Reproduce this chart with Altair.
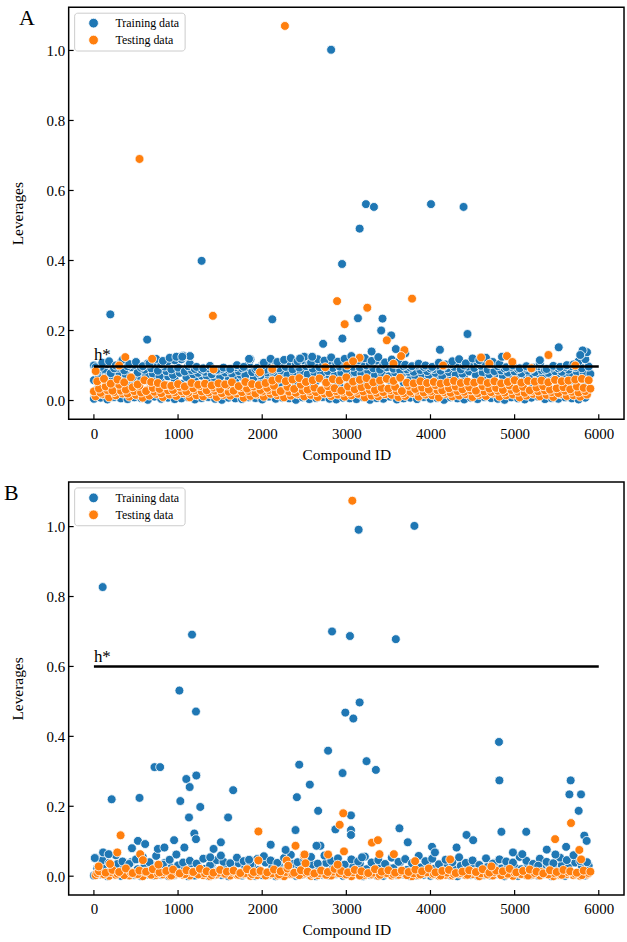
import altair as alt
import numpy as np
import pandas as pd

SERIF = "Liberation Serif"
SETS = ["Training data", "Testing data"]
SET_COLORS = ["#1f77b4", "#ff7f0e"]
X_TICKS = [0, 1000, 2000, 3000, 4000, 5000, 6000]
Y_TICKS = [0.0, 0.2, 0.4, 0.6, 0.8, 1.0]
H_SPAN = [0, 6000]
STEP = 80  # compound ids between neighbouring samples of a dense band row

# ---------------- Panel A ----------------
A_H = 0.097
# dense band rows: (id offset, leverages x1000 sampled every STEP ids)
A_TRAIN_BAND = [
    (0, [5, 8, 3, 10, 6, 4, 9, 7, 2, 11, 5, 8, 4, 6, 9, 3, 7, 10, 5, 2, 8, 6, 4, 9, 7, 3, 11, 5, 8, 6, 2, 9, 4, 7, 10, 5, 3,
         8, 6, 4, 9, 2, 7, 5, 11, 3, 6, 8, 4, 10, 5, 7, 2, 9, 6, 3, 8, 4, 10, 7, 5, 2, 9, 6, 3, 8, 11, 4, 7, 5, 9, 6, 3, 8]),
    (40, [32, 25, 40, 28, 36, 44, 30, 22, 38, 27, 41, 33, 24, 35, 29, 43, 26, 37, 31, 21, 39, 34, 28, 42, 23, 36, 30, 45, 27,
          33, 40, 24, 38, 29, 35, 22, 41, 31, 26, 37, 43, 28, 34, 25, 39, 30, 36, 23, 42, 27, 32, 38, 24, 35, 29, 44, 26, 33,
          40, 21, 37, 31, 28, 43, 25, 36, 30, 39, 22, 34, 41, 27, 33, 29]),
    (0, [58, 62, 50, 67, 55, 70, 48, 63, 57, 66, 52, 69, 60, 47, 64, 56, 71, 53, 61, 49, 65, 58, 68, 51, 62, 57, 70, 54, 66,
         59, 48, 63, 72, 55, 61, 67, 50, 64, 58, 69, 53, 60, 46, 65, 57, 71, 52, 62, 56, 68, 49, 63, 59, 66, 54, 70, 51, 61,
         58, 67, 47, 64, 55, 69, 60, 52, 66, 57, 63, 50, 68, 59, 62, 56]),
    (60, [72, 78, 68, 80, 74, 66, 82, 70, 77, 69, 84, 73, 79, 67, 75, 81, 71, 76, 68, 83, 70, 74, 79, 66, 72, 80, 77, 85, 73,
          78, 82, 75, 80, 76, 84, 71, 79, 74, 81, 77, 83, 72, 78, 69, 80, 75, 82, 70, 76, 73, 79, 68, 81, 74, 77, 83, 72, 80,
          75, 78, 70, 76, 73, 81, 69, 77, 74, 80, 72, 78, 75, 82, 79, 76]),
    (40, [84, 90, 78, 93, 86, 95, 80, 88, 92, 85, 97, 89, 94, 83, 87, 79, 82, 75, 86, 80, 77, 84, 72, 81, 78, 88, 85, 92, 96,
          89, 94, 98, 91, 95, 99, 93, 97, 90, 96, 94, 100, 92, 88, 95, 91, 86, 89, 82, 87, 84, 90, 85, 92, 96, 89, 97, 93, 99,
          88, 84, 86, 80, 83, 78, 85, 81, 87, 79, 84, 82, 88, 95, 92, 97]),
    (0, [100, 96, 104, 92, 108, 98, 102, 94, 106, 110, 104, 112, 115, 118, 98, 90, 88, 92, 86, 90, 88, 95, 92, 104, 90, 100,
         108, 104, 110, 112, 106, 115, 104, 110, 108, 114, 106, 112, 116, 108, 112, 106, 114, 102, 108, 104, 98, 94, 100, 96,
         92, 100, 98, 104, 108, 100, 110, 106, 112, 104, 98, 92, 96, 90, 94, 90, 98, 88, 94, 92, 96, 98, 112, 118]),
    (20, [95, 108, 112, 100, 116, 104, 110, 98, 106, 119, 113, 122, 125, 128, 105, 96, 92, 99, 88, 94, 90, 101, 96, 118, 93,
          108, 119, 110, 116, 121, 112, 125, 108, 118, 114, 123, 111, 119, 127, 115, 121, 113, 124, 109, 117, 110, 102, 98,
          105, 100, 96, 108, 103, 112, 118, 106, 120, 115, 122, 110, 104, 95, 100, 92, 98, 94, 105, 90, 99, 96, 101, 103, 130,
          138]),
]
A_TRAIN_OUT_ID = [2819, 1280, 3158, 2949, 195, 2120, 3138, 3233, 3328, 4006, 4393, 3430, 3414, 3533, 2953, 2724, 4440,
                  5524, 5808, 4112, 3588, 633, 1142, 1844, 2594, 3300, 3700, 5300, 4850, 1050, 2450, 5780]
A_TRAIN_OUT_LEV = [1002, 399, 491, 390, 246, 232, 235, 561, 553, 561, 553, 234, 200, 186, 177, 162, 190,
                   152, 143, 145, 147, 174, 127, 119, 125, 140, 135, 115, 125, 125, 120, 130]
A_TEST_BAND = [
    (20, [12, 18, 9, 15, 20, 11, 16, 8, 14, 19, 10, 17, 13, 21, 9, 15, 12, 18, 10, 16, 14, 20, 8, 13, 17, 11, 19, 15, 9, 14,
          18, 12, 16, 10, 20, 13, 17, 11, 15, 19, 9, 14, 12, 18, 16, 10, 13, 21, 11, 17, 15, 9, 19, 12, 14, 18, 10, 16, 13,
          20, 11, 15, 17, 9, 14, 19, 12, 16, 10, 18, 13, 15, 11, 17]),
    (0, [26, 22, 30, 24, 28, 20, 27, 23, 31, 25, 21, 29, 24, 27, 22, 30, 26, 23, 28, 21, 25, 29, 24, 27, 20, 26, 30, 23, 28,
         25, 22, 29, 26, 24, 31, 21, 27, 25, 23, 28, 26, 30, 22, 24, 29, 27, 21, 25, 28, 23, 26, 30, 24, 22, 27, 25, 29, 21,
         26, 24, 28, 23, 30, 25, 22, 27, 26, 29, 24, 21, 28, 25, 23, 27]),
    (60, [34, 40, 28, 45, 31, 38, 42, 27, 36, 33, 44, 30, 39, 26, 35, 41, 29, 37, 32, 43, 28, 38, 34, 40, 30, 36, 42, 27, 39,
          33, 45, 31, 37, 29, 41, 35, 28, 40, 32, 38, 43, 30, 36, 34, 39, 27, 42, 33, 37, 31, 44, 29, 35, 40, 32, 38, 28, 41,
          34, 36, 30, 43, 33, 39, 29, 37, 41, 31, 35, 38, 32, 40, 36, 34]),
    (40, [55, 62, 48, 60, 52, 66, 46, 58, 53, 50, 44, 42, 47, 40, 50, 45, 48, 43, 49, 46, 52, 41, 53, 47, 44, 50, 57, 62, 55,
          60, 64, 53, 58, 63, 51, 61, 57, 66, 54, 59, 64, 52, 57, 62, 56, 65, 51, 49, 55, 50, 53, 48, 52, 56, 50, 54, 51, 57,
          50, 55, 49, 53, 58, 51, 56, 54, 57, 52, 59, 55, 57, 60, 62, 58]),
]
A_TEST_OUT_ID = [2270, 542, 2890, 3249, 3781, 1414, 2980, 3481, 5402, 4601, 4909, 4973, 3690, 3651, 3158, 373, 692, 21,
                 1422, 1974, 2120, 2750, 3010, 3560, 4150, 4700, 5200, 5720, 300, 3080]
A_TEST_OUT_LEV = [1070, 690, 284, 265, 291, 242, 218, 172, 130, 123, 127, 110, 144, 127, 122, 124, 119, 84,
                  89, 81, 90, 95, 100, 105, 100, 105, 92, 100, 100, 112]

# ---------------- Panel B ----------------
B_H = 0.6
B_TRAIN_BAND = [
    (0, [2, 5, 0, 4, 1, 6, 3, 0, 5, 2, 4, 1, 3, 6, 0, 2, 5, 1, 4, 3, 0, 6, 2, 5, 1, 3, 4, 0, 2, 6, 1, 5, 3, 0, 4, 2, 6, 1, 3,
         5, 0, 4, 2, 1, 6, 3, 5, 0, 2, 4, 1, 3, 6, 2, 0, 5, 4, 1, 3, 2, 6, 0, 5, 1, 4, 3, 2, 6, 0, 4, 1, 5, 3, 2]),
    (40, [22, 30, 18, 35, 25, 40, 20, 28, 33, 17, 38, 24, 31, 19, 36, 27, 21, 34, 16, 29, 23, 37, 26, 32, 18, 39, 25, 30, 21,
          35, 28, 19, 33, 24, 38, 22, 31, 17, 27, 36, 20, 34, 26, 29, 23, 40, 18, 32, 25, 37, 21, 28, 35, 19, 30, 24, 33, 16,
          27, 38, 22, 31, 26, 20, 34, 29, 23, 36, 18, 32, 25, 39, 28, 30]),
    (20, [52, 45, 38, 60, 42, 35, 48, 55, 40, 58, 33, 47, 62, 39, 44, 36, 50, 31, 46, 41, 37, 53, 43, 34, 49, 57, 45, 38, 52,
          61, 40, 47, 55, 36, 59, 44, 51, 33, 48, 42, 56, 39, 46, 35, 53, 41, 49, 37, 58, 43, 50, 34, 47, 40, 54, 38, 45, 32,
          51, 36, 48, 42, 39, 55, 44, 35, 50, 41, 37, 53, 46, 60, 43, 40]),
]
B_TRAIN_OUT_ID = [3146, 3809, 104, 1166, 2830, 3043, 3588, 1016, 1213, 3158, 2988, 3083, 2783, 4814, 2440, 2955, 2566,
                  720, 787, 1098, 1138, 1217, 1655, 2412, 211, 542, 1027, 3240, 3351, 4819, 5666, 5651, 5789, 5761,
                  2665, 3055, 2870, 3055, 3055, 3631, 4843, 5138, 5828, 5856, 4428, 4507, 3730, 4310, 4018, 4053,
                  5382, 5485, 5612, 4980, 5091, 2692, 3186, 1130, 1264, 1595, 1193, 1213, 2396, 2101, 2278, 1509,
                  953, 1075, 1422, 1509, 1382, 10, 109, 175, 452, 523, 609, 760, 838, 1844, 2645, 5280]
B_TRAIN_OUT_LEV = [991, 1002, 827, 691, 700, 687, 678, 531, 471, 497, 468, 451, 359, 384, 319, 295, 262,
                   312, 312, 278, 255, 288, 246, 226, 220, 224, 215, 329, 304, 274, 274, 234, 234, 187,
                   187, 174, 134, 132, 118, 137, 127, 127, 116, 101, 118, 103, 97, 82, 84, 68,
                   76, 62, 84, 68, 63, 87, 54, 168, 198, 168, 122, 106, 132, 90, 75, 97,
                   103, 82, 78, 59, 54, 52, 68, 63, 80, 101, 92, 78, 82, 47, 87, 30]
B_TEST_BAND = [
    (20, [3, 6, 1, 4, 8, 2, 5, 0, 7, 3, 5, 1, 6, 4, 2, 8, 3, 0, 5, 7, 2, 4, 6, 1, 3, 8, 5, 2, 0, 6, 4, 7, 1, 3, 5, 2, 8, 4,
          0, 6, 3, 5, 1, 7, 2, 4, 6, 0, 3, 8, 5, 1, 4, 2, 7, 3, 6, 0, 5, 2, 8, 4, 1, 6, 3, 5, 2, 7, 0, 4, 6, 3, 1, 5]),
    (40, [9, 5, 12, 7, 3, 10, 6, 13, 4, 8, 11, 2, 9, 6, 12, 5, 8, 3, 10, 7, 13, 4, 9, 6, 11, 2, 8, 5, 12, 7, 3, 10, 6, 9, 4,
          13, 8, 5, 11, 2, 7, 10, 4, 9, 6, 12, 3, 8, 5, 11, 7, 2, 10, 6, 9, 4, 13, 8, 5, 11, 3, 7, 10, 6, 2, 9, 12, 5, 8, 4,
          11, 7, 3, 9]),
    (60, [14, 10, 18, 12, 22, 9, 16, 13, 20, 11, 15, 19, 8, 17, 12, 21, 14, 10, 18, 13, 16, 9, 20, 12, 15, 11, 19, 14, 22,
          10, 17, 13, 8, 16, 12, 21, 15, 11, 18, 14, 9, 20, 13, 17, 10, 16, 12, 19, 14, 22, 11, 15, 18, 9, 13, 17, 12, 20,
          10, 16, 14, 21, 11, 15, 19, 13, 8, 17, 12, 18, 14, 10, 16, 13]),
]
B_TEST_OUT_ID = [3071, 2963, 2921, 5670, 5481, 3304, 3375, 2972, 3394, 3565, 3817, 4234, 5769, 5790, 2495, 2783,
                 2897, 4724, 1955, 317, 2396, 2503, 278, 550, 582, 767, 57, 192, 1955, 2515, 2290, 2310]
B_TEST_OUT_LEV = [1074, 180, 147, 152, 106, 96, 103, 71, 63, 63, 43, 48, 75, 48, 59, 62,
                  33, 28, 128, 117, 87, 62, 68, 63, 46, 33, 28, 35, 45, 37, 45, 30]


def points_table(band, out_ids, out_levs, name):
    ids, levs = [], []
    for offset, vals in band:
        for i, v in enumerate(vals):
            ids.append(offset + STEP * i)
            levs.append(v / 1000)
    ids += out_ids
    levs += [v / 1000 for v in out_levs]
    return pd.DataFrame({"id": ids, "lev": levs, "set": name})


def legend_box():
    """Framed legend in the upper-left corner of a panel."""
    layers = [alt.Chart(pd.DataFrame({"t": [0]})).mark_rect(
        fill="white", fillOpacity=0.85, stroke="#cccccc", strokeWidth=1, cornerRadius=3
    ).encode(x=alt.value(6), x2=alt.value(117), y=alt.value(6), y2=alt.value(44))]
    for name, color, ypix in zip(SETS, SET_COLORS, [16, 33]):
        entry = alt.Chart(pd.DataFrame({"set": [name]}))
        layers.append(entry.mark_circle(size=95, opacity=1, color=color, stroke="white", strokeWidth=0.8)
                      .encode(x=alt.value(25), y=alt.value(ypix)))
        layers.append(entry.mark_text(align="left", baseline="middle", font=SERIF, fontSize=12, color="black")
                      .encode(x=alt.value(47), y=alt.value(ypix), text="set:N"))
    return layers


def panel(letter, letter_x, h, h_dy, ydom, height, tr_band, tr_ids, tr_levs, te_band, te_ids, te_levs):
    df = pd.concat([
        points_table(tr_band, tr_ids, tr_levs, SETS[0]),
        points_table(te_band, te_ids, te_levs, SETS[1]),
    ], ignore_index=True)
    xs = alt.Scale(domain=[-300, 6300], nice=False, zero=False)
    ys = alt.Scale(domain=ydom, nice=False, zero=False)
    # one axis definition per channel, shared by every layer so they merge
    x_axis = alt.Axis(values=X_TICKS, format="d", title="Compound ID", ticks=False, domain=False,
                      grid=False, labelPadding=7, titlePadding=6, labelFont=SERIF, labelFontSize=15,
                      titleFont=SERIF, titleFontSize=15.5, titleFontWeight="normal")
    y_axis = alt.Axis(values=Y_TICKS, format=".1f", title="Leverages", ticks=False, domain=False,
                      grid=False, labelPadding=4, titlePadding=21, labelFont=SERIF, labelFontSize=15,
                      titleFont=SERIF, titleFontSize=15.5, titleFontWeight="normal")
    X = lambda f: alt.X(f, scale=xs, axis=x_axis)
    Y = lambda f: alt.Y(f, scale=ys, axis=y_axis)

    pts = alt.Chart(df).mark_circle(size=80, opacity=1, stroke="white", strokeWidth=0.8).encode(
        x=X("id:Q"),
        y=Y("lev:Q"),
        color=alt.Color("set:N", scale=alt.Scale(domain=SETS, range=SET_COLORS), legend=None),
    )

    hdf = pd.DataFrame({"x0": [H_SPAN[0]], "x1": [H_SPAN[1]], "h": [h], "t": ["h*"]})
    hline = alt.Chart(hdf).mark_rule(color="black", strokeWidth=2.4).encode(
        x=X("x0:Q"), x2="x1:Q", y=Y("h:Q"))
    hlabel = alt.Chart(hdf).mark_text(align="left", baseline="alphabetic", dy=h_dy, fontSize=17,
                                      font=SERIF, color="black").encode(
        x=X("x0:Q"), y=Y("h:Q"), text="t:N")

    # inward tick marks
    yt = alt.Chart(pd.DataFrame({"v": Y_TICKS})).mark_rule(color="black", strokeWidth=1.2).encode(
        y=Y("v:Q"), x=alt.value(0), x2=alt.value(5))
    xt = alt.Chart(pd.DataFrame({"v": X_TICKS})).mark_rule(color="black", strokeWidth=1.2).encode(
        x=X("v:Q"), y=alt.value(height - 5), y2=alt.value(height))

    tag = alt.Chart(pd.DataFrame({"t": [letter]})).mark_text(
        align="left", baseline="alphabetic", fontSize=22, font=SERIF, color="black").encode(
        text="t:N", x=alt.value(letter_x), y=alt.value(18))
    # keeps the left edge of both panels at the same place
    guide = alt.Chart(pd.DataFrame({"t": [0]})).mark_rule(color="white", strokeWidth=1).encode(
        x=alt.value(-67), x2=alt.value(-66), y=alt.value(0), y2=alt.value(1))

    layers = [pts, hline, hlabel, yt, xt, tag, guide] + legend_box()
    return alt.layer(*layers).properties(width=558, height=height)


panel_a = panel("A", -50, A_H, -7, [-0.0535, 1.1235], 414,
                A_TRAIN_BAND, A_TRAIN_OUT_ID, A_TRAIN_OUT_LEV, A_TEST_BAND, A_TEST_OUT_ID, A_TEST_OUT_LEV)
panel_b = panel("B", -65, B_H, -4, [-0.0537, 1.1277], 415,
                B_TRAIN_BAND, B_TRAIN_OUT_ID, B_TRAIN_OUT_LEV, B_TEST_BAND, B_TEST_OUT_ID, B_TEST_OUT_LEV)

chart = alt.vconcat(panel_a, panel_b, spacing=16).resolve_scale(
    color="independent", x="independent", y="independent"
).properties(
    padding={"left": 0, "top": 3, "right": 2, "bottom": 0}
).configure_view(
    stroke="black", strokeWidth=1.5
).configure_axis(
    labelFont=SERIF, labelFontSize=15, titleFont=SERIF, titleFontSize=15.5, titleFontWeight="normal",
    labelColor="black", titleColor="black"
)

chart.save("out.html", embed_options={"renderer": "svg", "actions": False})
